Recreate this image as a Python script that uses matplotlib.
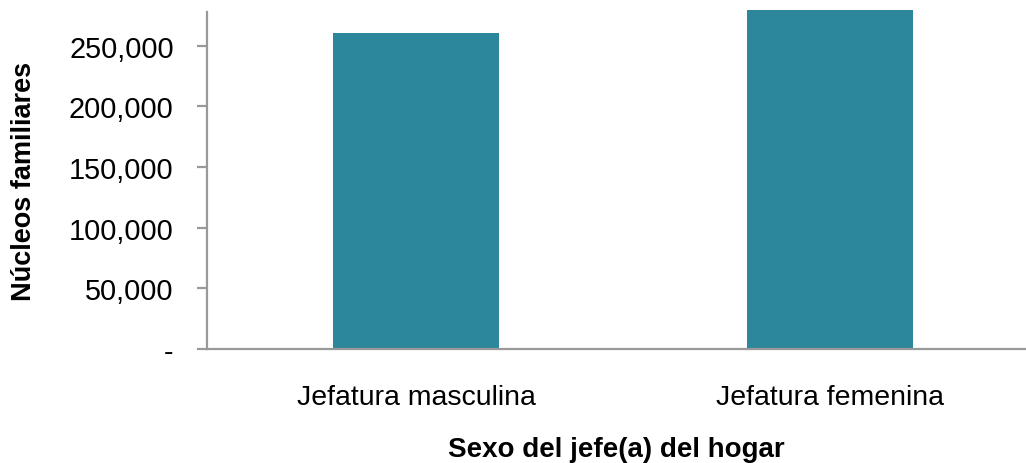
import matplotlib.pyplot as plt
import numpy as np
from matplotlib.ticker import FuncFormatter

categorias = ["Jefatura masculina", "Jefatura femenina"]
nucleos = [260300, 279200]
yticks = [0, 50000, 100000, 150000, 200000, 250000]

plt.rcParams['font.family'] = ['Liberation Sans', 'DejaVu Sans']

fig = plt.figure(figsize=(10.26, 4.64), dpi=100)
# axes placed in pixel terms of the reference
ax = fig.add_axes([207/1026, 1 - 350/464, (1026 - 207)/1026, (350 - 13)/464])

x = np.arange(len(categorias))
ax.bar(x, nucleos, width=0.4, color="#2C869C", clip_on=False, zorder=2)

ax.set_xlim(-0.505, 1.473)
ax.set_ylim(0, 277600)
ax.set_yticks(yticks)
ax.yaxis.set_major_formatter(FuncFormatter(lambda v, p: "-" if v == 0 else f"{v:,.0f}"))
ax.set_xticks(x)
ax.set_xticklabels(categorias)

for s in ["top", "right"]:
    ax.spines[s].set_visible(False)
for s in ["left", "bottom"]:
    ax.spines[s].set_color("#999999")
    ax.spines[s].set_linewidth(1.6)

ax.tick_params(axis="y", length=7, width=1.6, color="#999999", labelsize=20.8, pad=17)
ax.tick_params(axis="x", length=0, labelsize=20.5, pad=25)

ax.set_xlabel("Sexo del jefe(a) del hogar", fontsize=20, fontweight="bold", labelpad=19)
ax.set_ylabel("Núcleos familiares", fontsize=19.5, fontweight="bold", labelpad=23)

fig.savefig("out.png", dpi=100)
